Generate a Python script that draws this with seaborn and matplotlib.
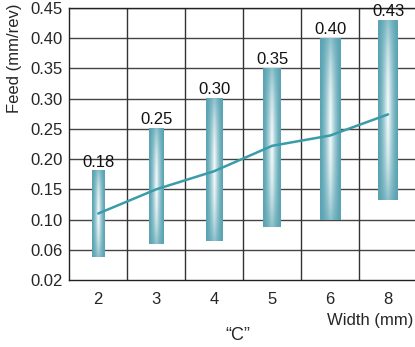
import numpy as np
import pandas as pd
import matplotlib
matplotlib.use("Agg")
import matplotlib.pyplot as plt
import seaborn as sns

# ---- data ----
widths = ["2", "3", "4", "5", "6", "8"]
feed_min = [0.05, 0.067, 0.071, 0.09, 0.10, 0.133]
feed_max = [0.18, 0.25, 0.30, 0.35, 0.40, 0.43]
feed_typ = [0.11, 0.15, 0.18, 0.222, 0.239, 0.274]
max_labels = ["0.18", "0.25", "0.30", "0.35", "0.40", "0.43"]
y_ticks = [0.02, 0.06, 0.10, 0.15, 0.20, 0.25, 0.30, 0.35, 0.40, 0.45]
y_tick_labels = ["0.02", "0.06", "0.10", "0.15", "0.20", "0.25", "0.30", "0.35", "0.40", "0.45"]

# style only
bar_widths = [0.22, 0.25, 0.29, 0.31, 0.36, 0.34]

sns.set_style("white")
plt.rcParams["font.family"] = ["Liberation Sans", "DejaVu Sans"]
FS = 12

W, H = 415, 347
fig = plt.figure(figsize=(W / 100, H / 100), dpi=100)
ax = fig.add_axes([69.3 / W, (H - 280) / H, (417 - 69.3) / W, (280 - 8) / H])

tick_pos = np.arange(len(y_ticks))


def ymap(v):
    return np.interp(v, y_ticks, tick_pos)


xpos = np.arange(len(widths))

# gradient bars
edge = np.array([0.35, 0.64, 0.70])
white = np.array([0.97, 0.99, 0.99])
nx, ny = 60, 200
gx = np.linspace(-1, 1, nx)[None, :]
gy = np.linspace(-1, 1, ny)[:, None]
t = (1 - np.abs(gx)) ** 1.5 * (1 - 0.65 * gy ** 2)
img = edge[None, None, :] + (white - edge)[None, None, :] * t[:, :, None]

for i, (lo, hi, bw) in enumerate(zip(feed_min, feed_max, bar_widths)):
    ax.imshow(img, extent=[xpos[i] - bw / 2, xpos[i] + bw / 2, ymap(lo), ymap(hi)],
              aspect="auto", zorder=2, interpolation="bilinear")
    ax.annotate(max_labels[i], (xpos[i], ymap(hi)), xytext=(0, 1), textcoords="offset points",
                ha="center", va="bottom", fontsize=FS, color="#111111", zorder=4)

df = pd.DataFrame({"x": xpos, "y": ymap(np.array(feed_typ))})
sns.lineplot(data=df, x="x", y="y", ax=ax, color="#3a9caa", linewidth=1.8, zorder=3)

ax.set_xlim(-0.5, len(widths) - 0.5)
ax.set_ylim(0, len(y_ticks) - 1)
ax.set_xticks(xpos)
ax.set_xticklabels(widths, fontsize=FS)
ax.set_yticks(tick_pos)
ax.set_yticklabels(y_tick_labels, fontsize=FS)
ax.tick_params(axis="both", which="both", length=0)
ax.tick_params(axis="y", pad=5)
ax.tick_params(axis="x", pad=9)
ax.set_xlabel("")
ax.set_ylabel("")

ax.grid(False)
for yv in tick_pos[1:]:
    ax.axhline(yv, color="#444444", linewidth=1.0, zorder=1)
for xv in np.arange(0.5, len(widths) - 0.5, 1):
    ax.axvline(xv, color="#333333", linewidth=1.0, zorder=1)

for s in ["left", "bottom", "top", "right"]:
    ax.spines[s].set_color("#222222")
    ax.spines[s].set_linewidth(1.0)

fig.text(14 / W, 1 - 58 / H, "Feed (mm/rev)", rotation=90, ha="center", va="center", fontsize=FS)
fig.text(413 / W, 1 - 320 / H, "Width (mm)", ha="right", va="center", fontsize=FS)
fig.text(238 / W, 1 - 336 / H, "\u201cC\u201d", ha="center", va="center", fontsize=FS + 1)

fig.savefig("out.png", dpi=100)
